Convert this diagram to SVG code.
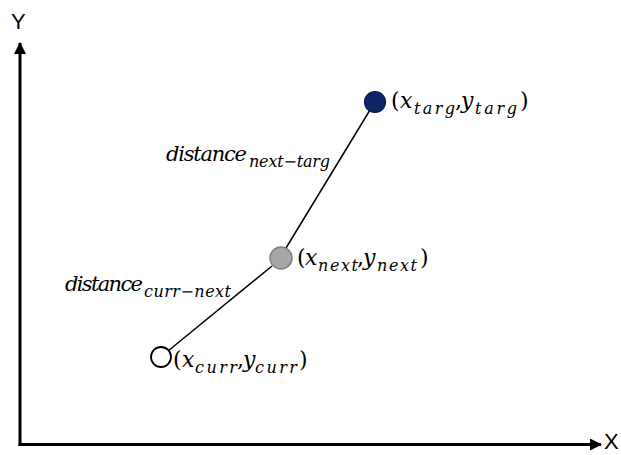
<svg xmlns="http://www.w3.org/2000/svg" width="621" height="455" viewBox="0 0 621 455">
<style>
.ax{stroke:#000;stroke-width:3;fill:none}
.lbl{font-family:"Liberation Sans",Arial,sans-serif;font-size:22px;fill:#000}
.m{font-family:"DejaVu Serif","Liberation Serif",serif;font-style:italic;font-size:22px;fill:#000}
.d{font-size:21px}
.s{font-size:16px}
.u{font-style:normal}
.ln{stroke:#000;stroke-width:1.5;fill:none}
</style>
<defs>
<marker id="ah" viewBox="0 0 12 12" refX="11" refY="6" markerWidth="12" markerHeight="12" markerUnits="userSpaceOnUse" orient="auto">
<path d="M0,0 L12,6 L0,12 Z" fill="#000"/>
</marker>
</defs>
<rect width="621" height="455" fill="#fff"/>
<g id="axes">
<line class="ax" x1="20" y1="446" x2="20" y2="43" marker-end="url(#ah)"/>
<line class="ax" x1="18.5" y1="444.5" x2="601" y2="444.5" marker-end="url(#ah)"/>
<text class="lbl" x="11" y="29">Y</text>
<text class="lbl" x="604" y="449" font-size="20">X</text>
</g>
<g id="connectors">
<line class="ln" x1="168" y1="351" x2="272" y2="266"/>
<line class="ln" x1="286" y1="248" x2="370" y2="110"/>
</g>
<g id="curr">
<circle cx="161" cy="357" r="10" fill="#fff" stroke="#000" stroke-width="1.8"/>
<text class="m"><tspan class="u" x="173" y="367">(</tspan><tspan x="182" y="367">x</tspan><tspan class="s" x="195" y="373" textLength="42" lengthAdjust="spacing">curr</tspan><tspan class="u" x="237" y="367">,</tspan><tspan x="243" y="367">y</tspan><tspan class="s" x="255" y="373" textLength="42" lengthAdjust="spacing">curr</tspan><tspan class="u" x="299" y="367">)</tspan></text>
</g>
<g id="next">
<circle cx="281" cy="258" r="11" fill="#a6a6a6" stroke="#7f7f7f" stroke-width="1.5"/>
<text class="m"><tspan class="u" x="297" y="265">(</tspan><tspan x="305" y="265">x</tspan><tspan class="s" x="318" y="271" textLength="40" lengthAdjust="spacing">next</tspan><tspan class="u" x="357" y="265">,</tspan><tspan x="363" y="265">y</tspan><tspan class="s" x="377" y="271" textLength="40" lengthAdjust="spacing">next</tspan><tspan class="u" x="420" y="265">)</tspan></text>
</g>
<g id="targ">
<circle cx="375" cy="102" r="10.5" fill="#0b2566" stroke="#061a4d" stroke-width="1.2"/>
<text class="m"><tspan class="u" x="391" y="108">(</tspan><tspan x="400" y="108">x</tspan><tspan class="s" x="414" y="114" textLength="41" lengthAdjust="spacing">targ</tspan><tspan class="u" x="455" y="108">,</tspan><tspan x="461" y="108">y</tspan><tspan class="s" x="475" y="114" textLength="42" lengthAdjust="spacing">targ</tspan><tspan class="u" x="520" y="108">)</tspan></text>
</g>
<g id="dist-next-targ">
<text class="m d"><tspan x="166" y="161" textLength="81" lengthAdjust="spacing">distance</tspan><tspan class="s" x="249" y="167" textLength="81" lengthAdjust="spacing">next−targ</tspan></text>
</g>
<g id="dist-curr-next">
<text class="m d"><tspan x="65" y="291" textLength="78" lengthAdjust="spacing">distance</tspan><tspan class="s" x="144" y="297" textLength="87" lengthAdjust="spacing">curr−next</tspan></text>
</g>
</svg>
